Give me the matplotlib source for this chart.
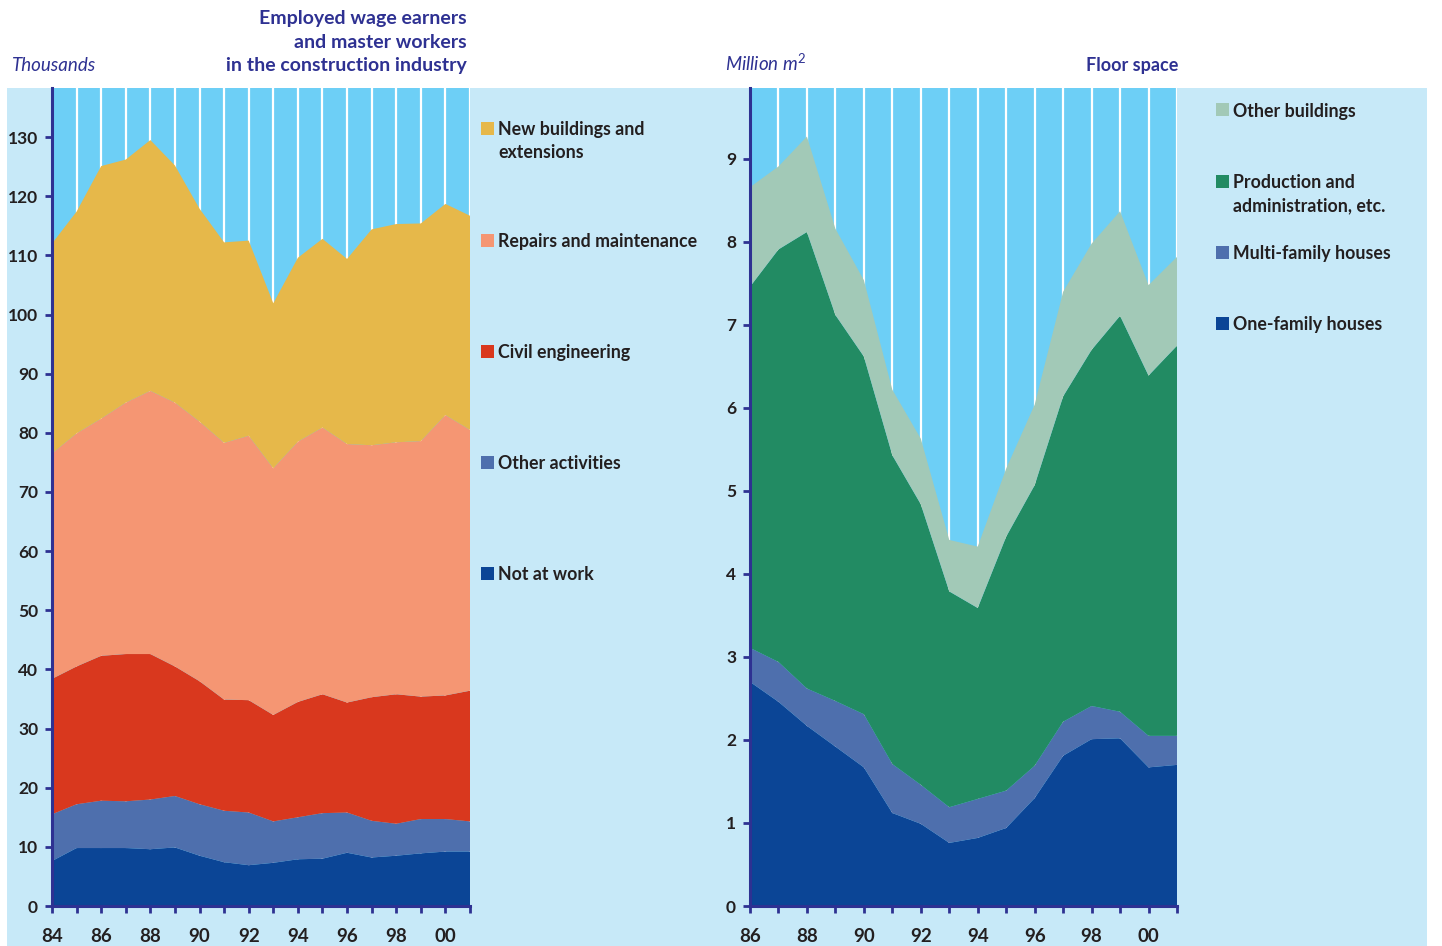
import numpy as np
import matplotlib.pyplot as plt
from matplotlib.patches import Rectangle

plt.rcParams['font.family'] = ['Lato', 'DejaVu Sans']
plt.rcParams['mathtext.fontset'] = 'custom'
plt.rcParams['mathtext.rm'] = 'Lato'
plt.rcParams['mathtext.it'] = 'Lato:italic'
plt.rcParams['mathtext.default'] = 'it'

# ---- data: employed wage earners (thousands) ----
years_emp = list(range(1984, 2002))
not_at_work = [7.6, 9.8, 9.8, 9.8, 9.6, 9.9, 8.5, 7.4, 6.9, 7.3, 7.9, 8.0, 9.0, 8.2, 8.5, 8.9, 9.2, 9.2]
other_activities = [7.9, 7.4, 8.0, 7.9, 8.4, 8.7, 8.7, 8.7, 8.9, 7.0, 7.1, 7.7, 6.8, 6.2, 5.4, 5.8, 5.5, 5.1]
civil_engineering = [22.9, 23.3, 24.5, 24.9, 24.6, 21.9, 20.8, 18.8, 19.0, 18.0, 19.5, 20.1, 18.6, 20.9, 21.9, 20.7, 20.9, 22.1]
repairs = [38.1, 39.4, 40.1, 42.5, 44.5, 44.6, 43.9, 43.4, 44.7, 41.7, 44.0, 45.1, 43.7, 42.6, 42.6, 43.2, 47.4, 44.1]
new_buildings = [35.5, 37.5, 42.7, 41.1, 42.4, 40.1, 36.0, 33.9, 33.0, 27.9, 31.1, 31.9, 31.3, 36.5, 36.9, 36.8, 35.7, 36.2]
emp_labels = ["New buildings and\nextensions", "Repairs and maintenance", "Civil engineering",
              "Other activities", "Not at work"]

# ---- data: floor space (million m2) ----
years_fs = list(range(1986, 2002))
one_family = [2.70, 2.46, 2.17, 1.92, 1.67, 1.12, 0.99, 0.76, 0.82, 0.94, 1.30, 1.81, 2.01, 2.02, 1.67, 1.70]
multi_family = [0.41, 0.48, 0.45, 0.55, 0.64, 0.59, 0.47, 0.43, 0.47, 0.45, 0.39, 0.41, 0.40, 0.32, 0.38, 0.35]
production = [4.35, 4.97, 5.50, 4.65, 4.31, 3.72, 3.38, 2.60, 2.30, 3.06, 3.38, 3.92, 4.29, 4.77, 4.34, 4.70]
other_buildings = [1.20, 1.00, 1.15, 1.04, 0.92, 0.79, 0.79, 0.62, 0.74, 0.82, 0.97, 1.26, 1.28, 1.26, 1.09, 1.07]
fs_labels = ["Other buildings", "Production and\nadministration, etc.", "Multi-family houses", "One-family houses"]

title_left = "Employed wage earners\nand master workers\nin the construction industry"

# ---- colours ----
NAVY = '#2e3192'
DARK = '#231f20'
SKY = '#6dcff6'
LIGHT = '#c7e9f8'
C_DBLUE = '#0b4596'
C_MBLUE = '#4e6fad'
C_RED = '#d9381e'
C_SALMON = '#f59673'
C_YELLOW = '#e6b84a'
C_GREEN = '#228b63'
C_PALE = '#a2c9b7'

W, H = 1442, 946


def fx(x):
    return x / W


def fy(y):
    return 1 - y / H


fig = plt.figure(figsize=(W / 100, H / 100), dpi=100)
fig.patch.set_facecolor('white')
fig.patches.append(Rectangle((fx(7), 0), fx(1427) - fx(7), fy(88), transform=fig.transFigure,
                             facecolor=LIGHT, edgecolor='none', zorder=-10))


def lines_text(x, y, s, lh, **kw):
    # each line placed on its own baseline, lh pixels apart
    for j, line in enumerate(s.split('\n')):
        fig.text(fx(x), fy(y + j * lh), line, va='baseline', **kw)


def style(ax, years, ymax, yticks):
    ax.set_facecolor(SKY)
    ax.set_xlim(years[0], years[-1])
    ax.set_ylim(0, ymax)
    ax.set_xticks(years)
    ax.set_xticklabels([f"{y % 100:02d}" if y % 2 == 0 else "" for y in years])
    ax.set_yticks(yticks)
    ax.grid(axis='x', color='white', linewidth=1.6)
    ax.set_axisbelow(True)
    for s in ['top', 'right']:
        ax.spines[s].set_visible(False)
    for s in ['left', 'bottom']:
        ax.spines[s].set_color(NAVY)
        ax.spines[s].set_linewidth(2.2)
    ax.tick_params(axis='both', color=NAVY, width=2, length=5, labelcolor=DARK)
    ax.tick_params(axis='x', labelsize=13.5, pad=11)
    ax.tick_params(axis='y', labelsize=12.5, pad=5)
    for lab in ax.get_xticklabels() + ax.get_yticklabels():
        lab.set_fontweight('bold')


# left chart
ax1 = fig.add_axes([fx(52), fy(906), fx(470) - fx(52), fy(88) - fy(906)])
ax1.stackplot(years_emp, not_at_work, other_activities, civil_engineering, repairs, new_buildings,
              colors=[C_DBLUE, C_MBLUE, C_RED, C_SALMON, C_YELLOW], linewidth=0)
style(ax1, years_emp, 138.3, np.arange(0, 131, 10))

# right chart
ax2 = fig.add_axes([fx(750), fy(906), fx(1177) - fx(750), fy(88) - fy(906)])
ax2.stackplot(years_fs, one_family, multi_family, production, other_buildings,
              colors=[C_DBLUE, C_MBLUE, C_GREEN, C_PALE], linewidth=0)
style(ax2, years_fs, 9.855, np.arange(0, 10, 1))

# headings
lines_text(467, 24, title_left, 23.5, ha='right', color=NAVY, fontsize=14, fontweight='bold')
fig.text(fx(12), fy(71), "Thousands", ha='left', va='baseline', color=NAVY, fontsize=13.5, style='italic')
fig.text(fx(725), fy(71), "Million m$^{2}$", ha='left', va='baseline', color=NAVY, fontsize=13.5, style='italic')
fig.text(fx(1178), fy(71), "Floor space", ha='right', va='baseline', color=NAVY, fontsize=13, fontweight='bold')

# legends
emp_colors = [C_YELLOW, C_SALMON, C_RED, C_MBLUE, C_DBLUE]
for i, (lab, col) in enumerate(zip(emp_labels, emp_colors)):
    yc = 129 + i * 111.2
    fig.patches.append(Rectangle((fx(481), fy(yc + 6.5)), 13 / W, 13 / H, transform=fig.transFigure,
                                 facecolor=col, edgecolor='none'))
    lines_text(498, yc + 6.5, lab, 23, ha='left', color=DARK, fontsize=12.8, fontweight='bold')

fs_colors = [C_PALE, C_GREEN, C_MBLUE, C_DBLUE]
for i, (lab, col) in enumerate(zip(fs_labels, fs_colors)):
    yc = 110 + i * 71.3
    fig.patches.append(Rectangle((fx(1216), fy(yc + 6.5)), 13 / W, 13 / H, transform=fig.transFigure,
                                 facecolor=col, edgecolor='none'))
    lines_text(1233, yc + 6.5, lab, 23, ha='left', color=DARK, fontsize=12.8, fontweight='bold')

fig.savefig('out.png', dpi=100)
